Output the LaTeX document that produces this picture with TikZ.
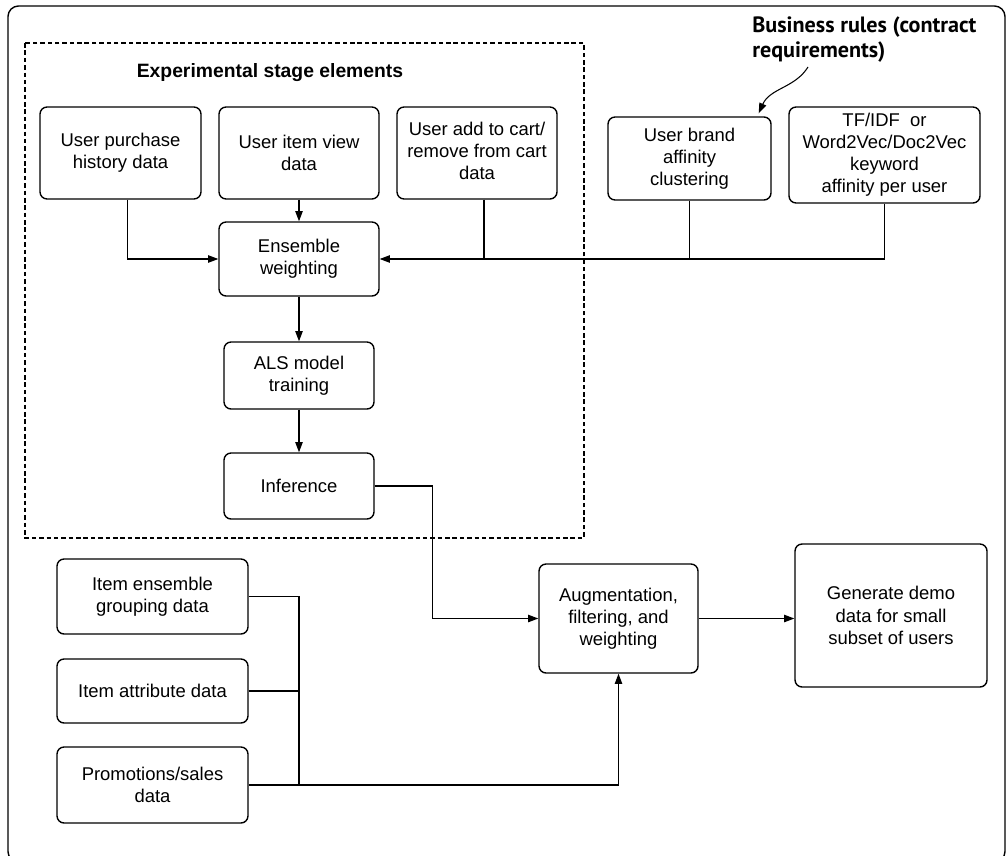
\documentclass[tikz,border=0pt]{standalone}
\usepackage{fontspec}
\setmainfont{Liberation Sans}
\newfontfamily\rulesfont{PT Sans}
\usetikzlibrary{arrows.meta}

\tikzset{
  box/.style={draw, line width=0.8pt, rounded corners=4pt, align=center, inner sep=2pt,
    font=\fontsize{10.5}{12.6}\selectfont},
  link/.style={line width=0.7pt},
  arr/.style={link, -{Triangle[length=5.8pt,width=4.2pt]}},
}

\begin{document}
\begin{tikzpicture}[x=0.02cm, y=-0.02cm]

\useasboundingbox (0,0) rectangle (1006,855);
\begin{scope}
\clip (0,0) rectangle (1006,855);
\draw [line width=0.8pt, rounded corners=6pt] (8,6) rectangle (1005,862);
\end{scope}

\draw [line width=0.6pt, dash pattern=on 2.6pt off 1.6pt] (25,43) rectangle (584,538);
\node (title) at (270,73) [font=\bfseries\fontsize{11}{13}\selectfont] {Experimental stage elements};

\node (purch) at (120.5,153) [box, minimum width=3.22cm, minimum height=1.84cm] {User purchase\\history data};
\node (view) at (299,153) [box, minimum width=3.2cm, minimum height=1.84cm] {User item view\\data};
\node (cart) at (477,153) [box, minimum width=3.2cm, minimum height=1.84cm] {User add to cart/\\remove from cart\\data\\[-0.35cm]};
\node (brand) at (689.5,158.5) [box, minimum width=3.26cm, minimum height=1.66cm] {User brand\\affinity\\clustering};
\node (tfidf) at (884.5,155) [box, minimum width=3.82cm, minimum height=1.92cm] {TF/IDF\ \ or\\Word2Vec/Doc2Vec\\keyword\\affinity per user};

\node (ens) at (299,259) [box, minimum width=3.2cm, minimum height=1.48cm] {Ensemble\\weighting};
\node (als) at (299,375.5) [box, minimum width=3cm, minimum height=1.34cm] {ALS model\\training};
\node (inf) at (299,486) [box, minimum width=3cm, minimum height=1.32cm] {Inference};

\node (iens) at (152.5,596.5) [box, minimum width=3.82cm, minimum height=1.5cm] {Item ensemble\\grouping data};
\node (iattr) at (152.5,691) [box, minimum width=3.82cm, minimum height=1.28cm] {Item attribute data};
\node (promo) at (152.5,785) [box, minimum width=3.82cm, minimum height=1.52cm] {Promotions/sales\\data};

\node (aug) at (618.5,618.5) [box, minimum width=3.18cm, minimum height=2.18cm] {Augmentation,\\filtering, and\\weighting};
\node (gen) at (891,615.5) [box, minimum width=3.84cm, minimum height=2.86cm] {Generate demo\\data for small\\subset of users};

\node (rules) at (752,16) [anchor=north west, inner sep=0pt, align=left,
  font=\rulesfont\bfseries\fontsize{12.6}{14.6}\selectfont] {Business rules (contract\\requirements)};
\coordinate (rulestail) at (808,67);
\draw [arr, line width=0.6pt] (rulestail) .. controls (795,88) and (770,88) .. ([xshift=-0.26cm,yshift=0.06cm]brand.north east);

\draw [arr] (purch.south) ++(7,0) |- (ens.west);
\draw [arr] (view) -- (ens);
\draw [link] (cart.south) ++(7,0) coordinate (cartdrop) -- (cartdrop |- ens.east);
\draw [link] (brand.south) -- (brand.south |- ens.east);
\draw [arr] (tfidf.south) |- (ens.east);

\draw [arr] (ens) -- (als);
\draw [arr] (als) -- (inf);
\draw [arr] (inf.east) -- ++(58,0) |- (aug.west);

\coordinate (join) at (299,785);
\draw [link] (iens.east) -| (join);
\draw [link] (iattr.east) -- (iattr.east -| join);
\draw [arr] (promo.east) -| (aug.south);

\draw [arr] (aug.east) -- (aug.east -| gen.west);

\end{tikzpicture}
\end{document}
